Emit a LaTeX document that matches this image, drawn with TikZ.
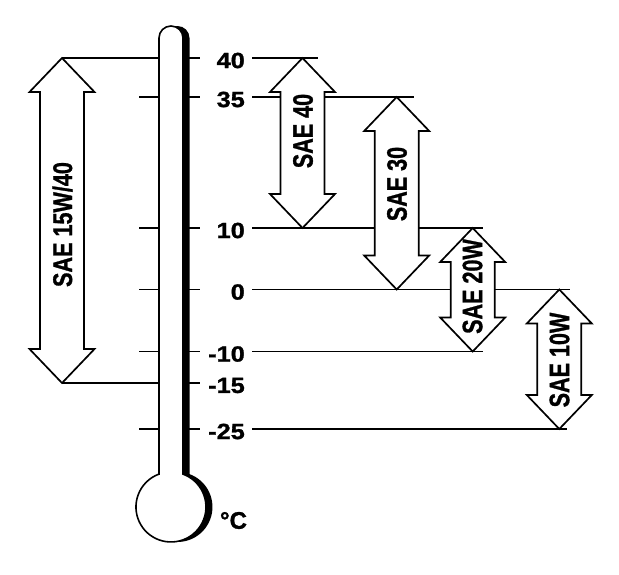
\documentclass[tikz,border=0pt]{standalone}
\usepackage{fontspec}
\setmainfont{Liberation Sans}[BoldFeatures={FakeBold=1.2}]
\begin{document}
\begin{tikzpicture}[x=1pt,y=-1pt,
  lvl/.style={line width=1.7pt},
  lab/.style={anchor=east,inner sep=0pt,font=\fontsize{22}{22}\selectfont\bfseries},
  blockarrow/.style={draw=black,fill=white,line width=1.7pt,line join=miter},
  saetext/.style={rotate=90,inner sep=0pt,font=\fontsize{28}{28}\selectfont\bfseries},
  thermo/.style={line width=1.6pt}]
\useasboundingbox (0,0) rectangle (619,574);
\newcommand\saearrow[3]{%
  \path[blockarrow] (#1,#2) -- ++(32.5,34) -- ++(-10.5,0) -- (#1+22,#3-34) -- ++(10.5,0)
    -- (#1,#3) -- (#1-32.5,#3-34) -- ++(10.5,0) -- (#1-22,#2+34) -- ++(-10.5,0) -- cycle;}
% level lines on the right
\coordinate (r40a) at (252,58);   \coordinate (r40b) at (318,58);
\coordinate (r35a) at (252,97);   \coordinate (r35b) at (414,97);
\coordinate (r10a) at (252,228);  \coordinate (r10b) at (483,228);
\coordinate (r0a)  at (252,289.5);\coordinate (r0b)  at (570,289.5);
\coordinate (rm10a) at (252,351.5);\coordinate (rm10b) at (483,351.5);
\coordinate (rm25a) at (252,429); \coordinate (rm25b) at (567,429);
\draw[lvl] (r40a) -- (r40b);
\draw[lvl] (r35a) -- (r35b);
\draw[lvl] (r10a) -- (r10b);
\draw[lvl] (r0a) -- (r0b);
\draw[lvl] (rm10a) -- (rm10b);
\draw[lvl] (rm25a) -- (rm25b);
% left long lines
\coordinate (l40a) at (62,58);  \coordinate (l40b) at (159,58);
\coordinate (l15a) at (62,383); \coordinate (l15b) at (159,383);
\draw[lvl] (l40a) -- (l40b);
\draw[lvl] (l15a) -- (l15b);
% left short ticks
\foreach \yy/\nm in {97/a,228/b,289.5/c,351.5/d,429/e}{
  \coordinate (lt\nm a) at (139,\yy); \coordinate (lt\nm b) at (159,\yy);
  \draw[lvl] (lt\nm a) -- (lt\nm b);}
% right short ticks
\foreach \yy/\nm in {58/a,97/b,228/c,289.5/d,351.5/e,383/f,429/g}{
  \coordinate (rt\nm a) at (186,\yy); \coordinate (rt\nm b) at (200,\yy);
  \draw[lvl] (rt\nm a) -- (rt\nm b);}
% thermometer
\fill[black,xshift=6.5pt] (159,474.1) -- (159,38) arc[start angle=180,end angle=360,radius=12]
  -- (183,474.1) arc[start angle=-69.9,end angle=249.9,radius=35] -- cycle;
\path[thermo,draw=black,fill=white] (159,474.1) -- (159,38) arc[start angle=180,end angle=360,radius=12]
  -- (183,474.1) arc[start angle=-69.9,end angle=249.9,radius=35] -- cycle;
% labels
\node[lab] (t40) at (245,60.5) {\scalebox{1.15}[1]{40}};
\node[lab] (t35) at (245,99.5) {\scalebox{1.15}[1]{35}};
\node[lab] (t10) at (245,230.5) {\scalebox{1.15}[1]{10}};
\node[lab] (t0) at (245,292) {\scalebox{1.15}[1]{0}};
\node[lab] (tm10) at (245,354) {\scalebox{1.15}[1]{-10}};
\node[lab] (tm15) at (245,385.5) {\scalebox{1.15}[1]{-15}};
\node[lab] (tm25) at (245,431.5) {\scalebox{1.15}[1]{-25}};
\node[inner sep=0pt,font=\fontsize{24}{24}\selectfont\bfseries] (unit) at (233.5,520.5) {°C};
% arrows
\saearrow{62}{58}{383}
\saearrow{302.5}{58}{228}
\saearrow{396.7}{97}{289.5}
\saearrow{472.7}{228}{351.5}
\saearrow{559.3}{289.5}{429}
\node[saetext,font=\fontsize{27}{27}\selectfont\bfseries] (s1540) at (62.5,224.5) {\scalebox{0.8}[1]{SAE 15W/40}};
\node[saetext] (s40) at (303,131) {\scalebox{0.77}[1]{SAE 40}};
\node[saetext] (s30) at (397,184) {\scalebox{0.77}[1]{SAE 30}};
\node[saetext] (s20) at (472.5,286.5) {\scalebox{0.77}[1]{SAE 20W}};
\node[saetext] (s10) at (559.5,360) {\scalebox{0.77}[1]{SAE 10W}};
\end{tikzpicture}
\end{document}
